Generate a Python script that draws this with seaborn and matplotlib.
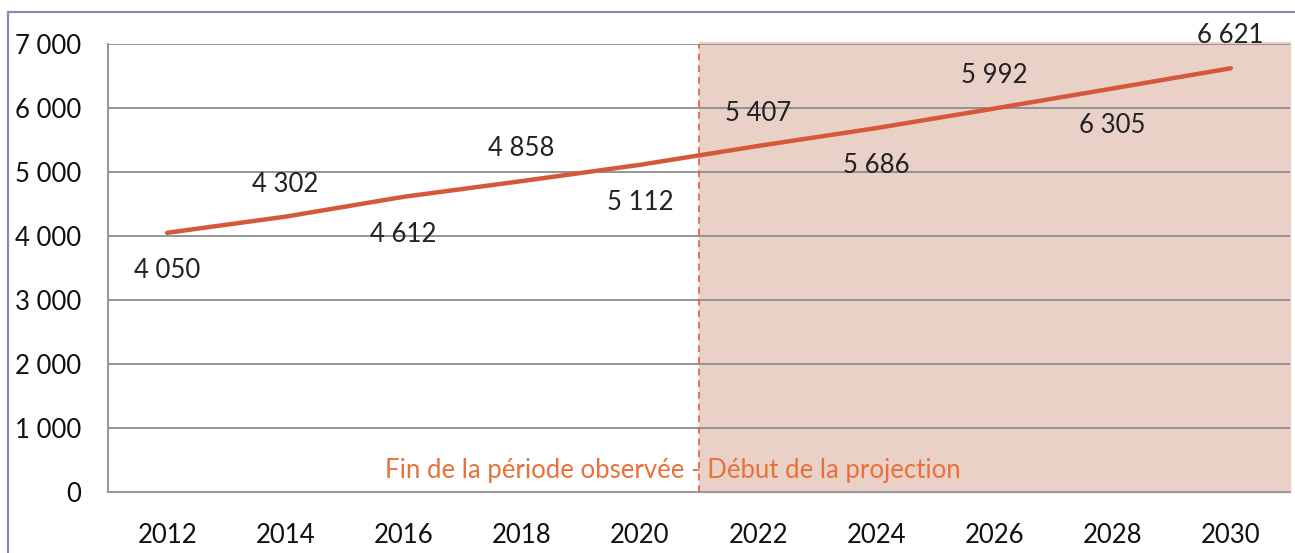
import seaborn as sns
import pandas as pd
import matplotlib.pyplot as plt
from matplotlib.patches import Rectangle
from matplotlib.ticker import FuncFormatter, FixedLocator

years = ['2012', '2014', '2016', '2018', '2020', '2022', '2024', '2026', '2028', '2030']
values = [4050, 4302, 4612, 4858, 5112, 5407, 5686, 5992, 6305, 6621]
label_side = ['below', 'above', 'below', 'above', 'below', 'above', 'below', 'above', 'below', 'above']
projection_start = '2022'

df = pd.DataFrame({'annee': years, 'valeur': values})

sns.set_style('white')
plt.rcParams['font.family'] = ['Lato', 'DejaVu Sans']

fig = plt.figure(figsize=(12.95, 5.53), dpi=100)
ax = fig.add_axes([0.0834, 0.1103, 0.9126, 0.8101])

sns.lineplot(x='annee', y='valeur', data=df, color='#d4583a', linewidth=3.2,
             sort=False, ax=ax, zorder=5)

n = len(years)
ax.set_xlim(-0.5, n - 0.5)
ax.set_ylim(0, 7000)

# projection zone
start = years.index(projection_start) - 0.5
ax.axvspan(start, n - 0.5, ymax=1.005, color='#ead1c8', zorder=0, clip_on=False)
ax.axvline(start, color='#e06040', linestyle=(0, (4, 3)), linewidth=1.2, zorder=3)
ax.text(4.28, 330, 'Fin de la période observée - Début de la projection',
        color='#e8703a', fontsize=18.5, ha='center', va='center', zorder=6)

# value labels
for i, (v, side) in enumerate(zip(values, label_side)):
    dy = -27 if side == 'below' else 23.5
    ax.annotate(f'{v:,}'.replace(',', ' '), (i, v), xytext=(0, dy),
                textcoords='offset points', ha='center', va='center',
                fontsize=18.5, color='#222222', zorder=6)

# axes styling
ax.yaxis.grid(True, color='#8c8c8c', linewidth=1.3, zorder=1)
ax.set_axisbelow(True)
ax.set_yticks(range(0, 7001, 1000))
ax.yaxis.set_major_formatter(FuncFormatter(lambda v, p: f'{int(v):,}'.replace(',', ' ')))
ax.xaxis.set_major_locator(FixedLocator([i - 0.5 for i in range(n + 1)]))
ax.xaxis.set_major_formatter(FuncFormatter(lambda v, p: ''))
ax.xaxis.set_minor_locator(FixedLocator(list(range(n))))
ax.set_xticklabels(years, minor=True)
ax.tick_params(axis='x', which='major', length=7, width=1.3, color='#999999', direction='out')
ax.tick_params(axis='x', which='minor', length=0, pad=22, labelsize=18.5, labelcolor='#111111')
ax.tick_params(axis='y', length=7, width=1.3, color='#8c8c8c', direction='out',
               pad=12, labelsize=18.5, labelcolor='#111111')
for s in ['top', 'right']:
    ax.spines[s].set_visible(False)
for s in ['left', 'bottom']:
    ax.spines[s].set_color('#9a9a9a')
    ax.spines[s].set_linewidth(1.5)
ax.set_xlabel('')
ax.set_ylabel('')

# outer frame
fig.patches.append(Rectangle((8 / 1295, -0.1), 1.2, 1 - 12 / 553 + 0.1,
                             transform=fig.transFigure, fill=False,
                             edgecolor='#8a8ab8', linewidth=1.6))

fig.savefig('out.png', dpi=100)
